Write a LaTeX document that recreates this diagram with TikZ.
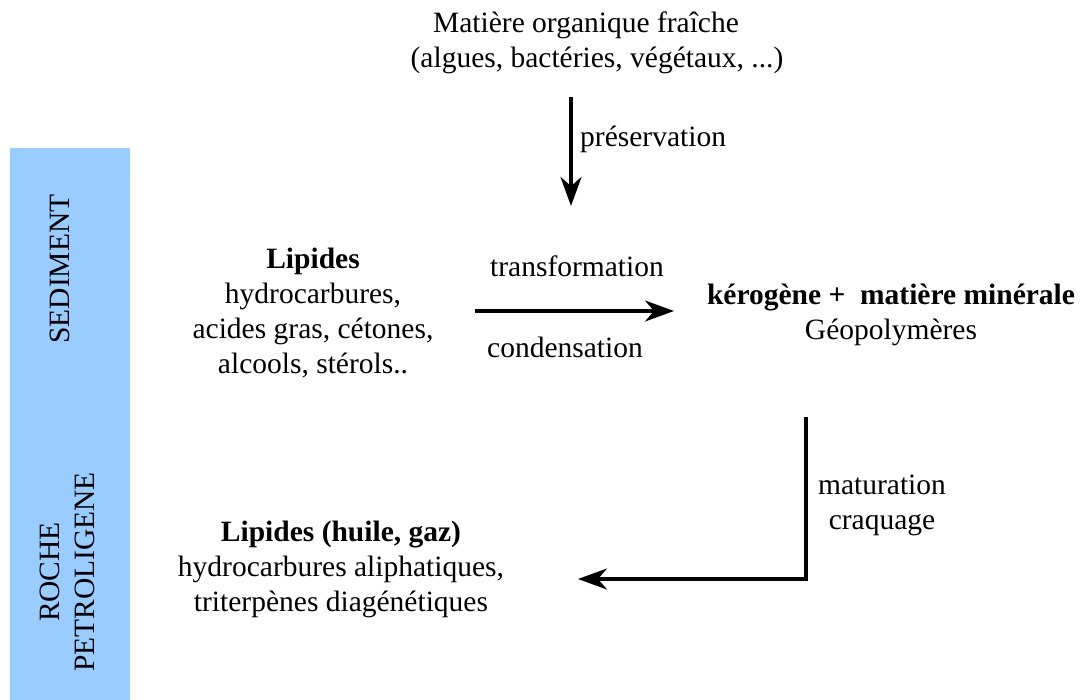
\documentclass[tikz,border=0pt]{standalone}
\usepackage{fontspec}
\setmainfont{Liberation Serif}
\usetikzlibrary{arrows.meta}
\definecolor{barblue}{HTML}{99CCFF}
\begin{document}
\begin{tikzpicture}[x=1pt,y=-1pt,
  txt/.style={font=\fontsize{29.5}{35}\selectfont, inner sep=0pt, align=center},
  conn/.style={line width=3.3pt, line join=miter, -{Stealth[length=29pt,width=21pt,inset=9pt]}}]
\useasboundingbox (0,0) rectangle (1081,700);
\fill[barblue] (10,148) rectangle (130,700);
\node[txt, rotate=90] (sed) at (60,269) {SEDIMENT};
\node[txt, rotate=90, anchor=south] (roche) at (95,572) {ROCHE\\PETROLIGENE};

\node[txt] (mo) at (586,43) {Matière organique fraîche\\\hspace*{22pt}(algues, bactéries, végétaux, ...)};
\coordinate (p1) at (571,97);
\coordinate (p2) at (571,206);
\draw[conn] (p1) -- (p2);
\node[txt, anchor=west] (pres) at (580,139) {préservation};

\node[txt] (lip) at (313,313) {\textbf{Lipides}\\hydrocarbures,\\acides gras, cétones,\\alcools, stérols..};
\coordinate (t1) at (475,311);
\coordinate (t2) at (674,311);
\draw[conn] (t1) -- (t2);
\node[txt] (trans) at (577,266) {transformation};
\node[txt] (cond) at (565,347) {condensation};

\node[txt] (ker) at (891,315) {\textbf{kérogène +\ \ matière minérale}\\Géopolymères};

\coordinate (m1) at (806,417);
\coordinate (m2) at (806,579);
\coordinate (m3) at (578,579);
\draw[conn] (m1) -- (m2) -- (m3);
\node[txt] (mat) at (882,505) {maturation\\craquage};

\node[txt] (lip2) at (341,569) {\textbf{Lipides (huile, gaz)}\\hydrocarbures aliphatiques,\\triterpènes diagénétiques};
\end{tikzpicture}
\end{document}
